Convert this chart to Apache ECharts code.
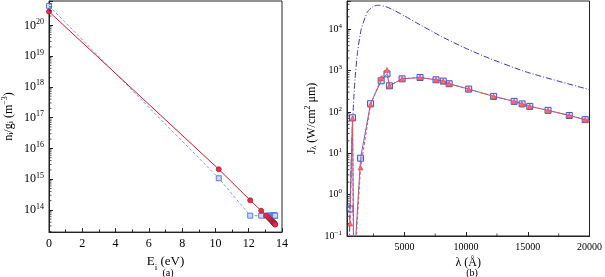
<!DOCTYPE html>
<html><head><meta charset="utf-8">
<script src="https://cdn.jsdelivr.net/npm/echarts@6/dist/echarts.min.js"></script>
<style>html,body{margin:0;padding:0;background:#fff}#c{width:605px;height:277px}</style>
</head><body><div id="c"></div>
<script>
// ---------- Panel (a): level populations ----------
const levelEnergy = [0, 10.2, 12.09, 12.75, 13.06, 13.22, 13.32, 13.39, 13.43, 13.46, 13.49, 13.51, 13.52, 13.53, 13.54, 13.55, 13.56, 13.57, 13.58, 13.59];
const popRed  = [2.8e20, 2.1e15, 2.05e14, 9.4e13, 6.5e13, 5.4e13, 4.8e13, 4.4e13, 4.2e13, 4.0e13, 3.85e13, 3.75e13, 3.7e13, 3.65e13, 3.6e13, 3.55e13, 3.5e13, 3.45e13, 3.4e13, 3.35e13];
const popBlue = [4.3e20, 1.07e15, 6.5e13, 6.5e13, 6.5e13, 6.5e13, 6.5e13, 6.5e13, 6.5e13, 6.5e13, 6.5e13, 6.5e13, 6.5e13, 6.5e13, 6.5e13, 6.5e13, 6.5e13, 6.5e13, 6.5e13, 6.5e13];
const energyTicks = [0, 2, 4, 6, 8, 10, 12, 14];

// ---------- Panel (b): mean intensity ----------
const lamBB = [500, 550, 600, 650, 700, 800, 900, 1000, 1200, 1500, 2000, 2500, 2900, 3500, 4000, 5000, 6000, 8000, 10000, 12000, 15000, 20000];
const jBB   = [0.011, 0.095, 0.54, 2.3, 7.8, 52, 212, 619, 2746, 9878, 25850, 35750, 37840, 34940, 30250, 20990, 14150, 6655, 3421, 1909, 900, 345];

const lamModel = [600, 800, 920, 1050, 1450, 2260, 3120, 3590, 3790, 4815, 6270, 7560, 8150, 8630, 10210, 12230, 13890, 14540, 15160, 16640, 18360, 19650, 20000];
const jBlue    = [0.45, 72, 0.002, 0.08, 7.6, 158, 565, 830, 427, 630, 680, 597, 556, 480, 356, 237, 180, 156, 136, 109, 82, 65, 62];
const jRed     = [0.2, 70, 0.002, 0.05, 4.5, 150, 655, 1040, 427, 630, 680, 597, 556, 480, 356, 237, 180, 156, 136, 109, 82, 65, 62];
const markModel = [1, 1, 0, 0, 1, 1, 1, 1, 1, 1, 1, 1, 1, 1, 1, 1, 1, 1, 1, 1, 1, 1, 0];
const lambdaTicks = [5000, 10000, 15000, 20000];
const lambdaMinorTicks = [2500, 7500, 12500, 17500];

const FONT = 'Liberation Serif';
const chart = echarts.init(document.getElementById('c'), null, {renderer: 'canvas'});

function supLabel(v) {
  const e = Math.log10(v); const r = Math.round(e);
  if (Math.abs(e - r) > 1e-6) return '';
  return '10{sup|' + (r < 0 ? '\u2212' + (-r) : r) + '}';
}
function minorVals(d0, d1, lo, hi) {
  const out = [];
  for (let d = d0; d <= d1; d++) for (let k = 2; k <= 9; k++) { const v = k * Math.pow(10, d); if (v > lo && v < hi) out.push(v); }
  return out;
}
function minorTicksY(gi, xmin, vals) {
  return {
    type: 'custom', xAxisIndex: gi, yAxisIndex: gi, silent: true, clip: false, z: 5,
    data: vals.map(v => [xmin, v]),
    renderItem: (p, api) => {
      const c = api.coord([api.value(0), api.value(1)]);
      return {type: 'line', shape: {x1: c[0], y1: c[1], x2: c[0] + 2.5, y2: c[1]}, style: {stroke: '#222', lineWidth: 0.8}};
    }
  };
}
function minorTicksX(gi, ymin, vals) {
  return {
    type: 'custom', xAxisIndex: gi, yAxisIndex: gi, silent: true, clip: false, z: 5,
    data: vals.map(v => [v, ymin]),
    renderItem: (p, api) => {
      const c = api.coord([api.value(0), api.value(1)]);
      return {type: 'line', shape: {x1: c[0], y1: c[1], x2: c[0], y2: c[1] - 2.5}, style: {stroke: '#222', lineWidth: 0.8}};
    }
  };
}

const ymin0 = 1.9e13, ymax0 = 6.2e20, ymin1 = 0.1, ymax1 = 4.8e4, xmin1 = 350;

const axisLineStyle = {lineStyle: {color: '#222', width: 1}};
const option = {
  animation: false,
  backgroundColor: '#fff',
  textStyle: {fontFamily: FONT, color: '#000'},
  title: [
    {text: '(a)', left: 163, top: 263, textAlign: 'center', textStyle: {fontFamily: FONT, fontSize: 10, fontWeight: 'normal', color: '#000'}},
    {text: '(b)', left: 467, top: 263, textAlign: 'center', textStyle: {fontFamily: FONT, fontSize: 10, fontWeight: 'normal', color: '#000'}}
  ],
  grid: [
    {left: 45, top: 1, width: 237, height: 236, show: true, borderColor: '#222', borderWidth: 1, backgroundColor: 'transparent'},
    {left: 347, top: 1, width: 244, height: 235, show: true, borderColor: '#222', borderWidth: 1, backgroundColor: 'transparent'}
  ],
  xAxis: [
    {gridIndex: 0, type: 'value', min: 0, max: 14, interval: 2,
     name: 'E{sub|i} (eV)', nameLocation: 'middle', nameGap: 17,
     nameTextStyle: {fontFamily: FONT, fontSize: 13, color: '#000', rich: {sub: {fontFamily: FONT, fontSize: 9, padding: [0, 0, -4, 0], verticalAlign: 'bottom'}}},
     axisLine: axisLineStyle, splitLine: {show: false},
     axisTick: {inside: true, length: 4, lineStyle: {color: '#222'}},
     minorTick: {show: true, splitNumber: 2, length: 2.5, lineStyle: {color: '#222'}},
     axisLabel: {fontFamily: FONT, fontSize: 12, color: '#000', margin: 6}},
    {gridIndex: 1, type: 'value', min: xmin1, max: 20000,
     name: '\u03bb (\u00c5)', nameLocation: 'middle', nameGap: 18,
     nameTextStyle: {fontFamily: FONT, fontSize: 12, color: '#000'},
     axisLine: axisLineStyle, splitLine: {show: false},
     axisTick: {inside: true, length: 4, lineStyle: {color: '#222'}, customValues: lambdaTicks},
     minorTick: {show: false},
     axisLabel: {fontFamily: FONT, fontSize: 10, color: '#000', margin: 6, customValues: lambdaTicks,
       formatter: v => String(Math.round(v)), showMinLabel: true, showMaxLabel: true}}
  ],
  yAxis: [
    {gridIndex: 0, type: 'log', logBase: 10, min: ymin0, max: ymax0,
     name: 'n{sub|i}/g{sub|i} (m{sup|\u22123})', nameLocation: 'middle', nameGap: 33, nameRotate: 90,
     nameTextStyle: {fontFamily: FONT, fontSize: 12, color: '#000',
       rich: {sub: {fontFamily: FONT, fontSize: 8, padding: [0, 0, -4, 0]}, sup: {fontFamily: FONT, fontSize: 8, padding: [0, 0, 7, 0]}}},
     axisLine: axisLineStyle, splitLine: {show: false},
     axisTick: {inside: true, length: 4, lineStyle: {color: '#222'}},
     axisLabel: {fontFamily: FONT, fontSize: 12, color: '#000', margin: 5, formatter: supLabel,
       rich: {sup: {fontFamily: FONT, fontSize: 8, padding: [0, 0, 7, 0]}}}},
    {gridIndex: 1, type: 'log', logBase: 10, min: ymin1, max: ymax1,
     name: 'J{sub|\u03bb} (W/cm{sup|2} \u03bcm)', nameLocation: 'middle', nameGap: 28, nameRotate: 90,
     nameTextStyle: {fontFamily: FONT, fontSize: 12, color: '#000',
       rich: {sub: {fontFamily: FONT, fontSize: 8, padding: [0, 0, -4, 0]}, sup: {fontFamily: FONT, fontSize: 8, padding: [0, 0, 7, 0]}}},
     axisLine: axisLineStyle, splitLine: {show: false},
     axisTick: {inside: true, length: 4, lineStyle: {color: '#222'}},
     axisLabel: {fontFamily: FONT, fontSize: 10, color: '#000', margin: 5, formatter: supLabel,
       rich: {sup: {fontFamily: FONT, fontSize: 7, padding: [0, 0, 6, 0]}}}}
  ],
  series: [
    minorTicksY(0, 0, minorVals(13, 20, ymin0, ymax0)),
    minorTicksY(1, xmin1, minorVals(-1, 4, ymin1, ymax1)),
    minorTicksX(1, ymin1, lambdaMinorTicks),
    {type: 'line', xAxisIndex: 0, yAxisIndex: 0, z: 3,
     data: levelEnergy.map((e, i) => [e, popBlue[i]]),
     lineStyle: {color: '#7d9cf0', width: 1, type: [3, 2]},
     symbol: 'rect', symbolSize: 5, itemStyle: {color: '#d0dcff', borderColor: '#5a7ce8', borderWidth: 1}},
    {type: 'line', xAxisIndex: 0, yAxisIndex: 0, z: 4,
     data: levelEnergy.map((e, i) => [e, popRed[i]]),
     lineStyle: {color: '#d0142e', width: 1},
     symbol: 'circle', symbolSize: 5, itemStyle: {color: '#ec2c44', borderColor: '#a02038', borderWidth: 0.8}},
    {type: 'line', xAxisIndex: 1, yAxisIndex: 1, z: 3, showSymbol: false,
     data: lamBB.map((l, i) => [l, jBB[i]]), smooth: 0.2,
     lineStyle: {color: '#3a3aa8', width: 1, type: [6, 2, 1, 2]}},
    {type: 'line', xAxisIndex: 1, yAxisIndex: 1, z: 4,
     data: lamModel.map((l, i) => ({value: [l, jBlue[i]], symbol: markModel[i] ? 'rect' : 'none'})),
     lineStyle: {color: '#5a6ad6', width: 1},
     symbol: 'rect', symbolSize: 6, itemStyle: {color: 'rgba(170,180,255,0.35)', borderColor: '#3f55d0', borderWidth: 1}},
    {type: 'line', xAxisIndex: 1, yAxisIndex: 1, z: 5,
     data: lamModel.map((l, i) => ({value: [l, jRed[i]], symbol: markModel[i] ? 'triangle' : 'none'})),
     lineStyle: {color: '#ff4a4a', width: 1, type: [3, 2]},
     symbol: 'triangle', symbolSize: 5, itemStyle: {color: '#ff6a6a', borderColor: '#e03030', borderWidth: 0.5}}
  ]
};
chart.setOption(option);
</script></body></html>
